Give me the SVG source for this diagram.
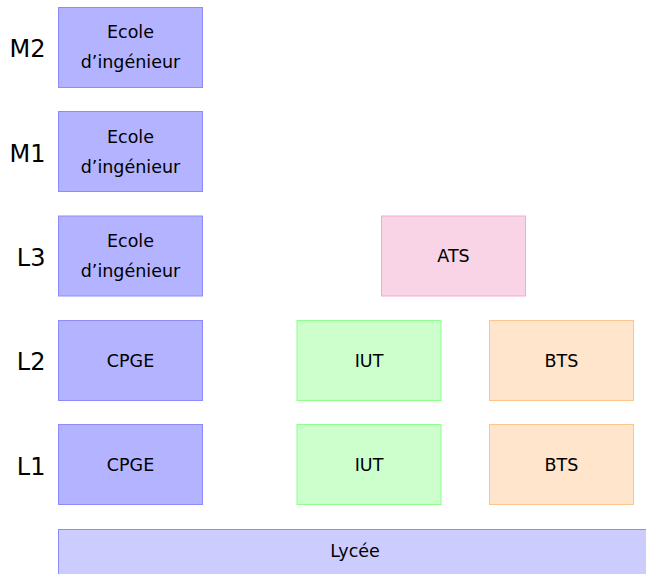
<svg xmlns="http://www.w3.org/2000/svg" width="646" height="574" viewBox="0 0 646 574">
<style>
text{font-family:"DejaVu Sans","Noto Sans",sans-serif;fill:#000;}
.t{font-size:17.5px;text-anchor:middle;}
.lab{font-size:24px;text-anchor:end;}
.blue{fill:#b3b3ff;stroke:#8c8cff;stroke-width:1;}
.lyc{fill:#ccccff;stroke:#8c8cff;stroke-width:1;}
.green{fill:#ccffcc;stroke:#8cff8c;stroke-width:1;}
.orange{fill:#ffe5cc;stroke:#ffc48c;stroke-width:1;}
.pink{fill:#f9d4e6;stroke:#f5a9cf;stroke-width:1;}
</style>
<g id="labels">
<text class="lab" x="45.5" y="56.7">M2</text>
<text class="lab" x="45.5" y="161.5">M1</text>
<text class="lab" x="45.5" y="266">L3</text>
<text class="lab" x="45.5" y="370">L2</text>
<text class="lab" x="45.5" y="474.5">L1</text>
</g>
<g id="m2-ecole"><rect class="blue" x="58.5" y="7.5" width="144" height="80"/><text class="t" x="130.5" y="38.3">Ecole</text><text class="t" x="130.5" y="68.3">d’ingénieur</text></g>
<g id="m1-ecole"><rect class="blue" x="58.5" y="111.5" width="144" height="80"/><text class="t" x="130.5" y="142.5">Ecole</text><text class="t" x="130.5" y="172.5">d’ingénieur</text></g>
<g id="l3-ecole"><rect class="blue" x="58.5" y="216" width="144" height="80"/><text class="t" x="130.5" y="247">Ecole</text><text class="t" x="130.5" y="277">d’ingénieur</text></g>
<g id="l2-cpge"><rect class="blue" x="58.5" y="320.5" width="144" height="80"/><text class="t" x="130.5" y="366.7">CPGE</text></g>
<g id="l1-cpge"><rect class="blue" x="58.5" y="424.5" width="144" height="80"/><text class="t" x="130.5" y="471">CPGE</text></g>
<g id="ats"><rect class="pink" x="381.5" y="216" width="144" height="80"/><text class="t" x="453.5" y="262.3">ATS</text></g>
<g id="l2-iut"><rect class="green" x="297" y="320.5" width="144" height="80"/><text class="t" x="369" y="366.7">IUT</text></g>
<g id="l1-iut"><rect class="green" x="297" y="424.5" width="144" height="80"/><text class="t" x="369" y="471">IUT</text></g>
<g id="l2-bts"><rect class="orange" x="489.5" y="320.5" width="144" height="80"/><text class="t" x="561.5" y="366.7">BTS</text></g>
<g id="l1-bts"><rect class="orange" x="489.5" y="424.5" width="144" height="80"/><text class="t" x="561.5" y="471">BTS</text></g>
<g id="lycee"><rect class="lyc" x="58.5" y="529.5" width="594" height="60"/><text class="t" x="355" y="556.7">Lycée</text></g>
<g id="connectors"></g>
</svg>
